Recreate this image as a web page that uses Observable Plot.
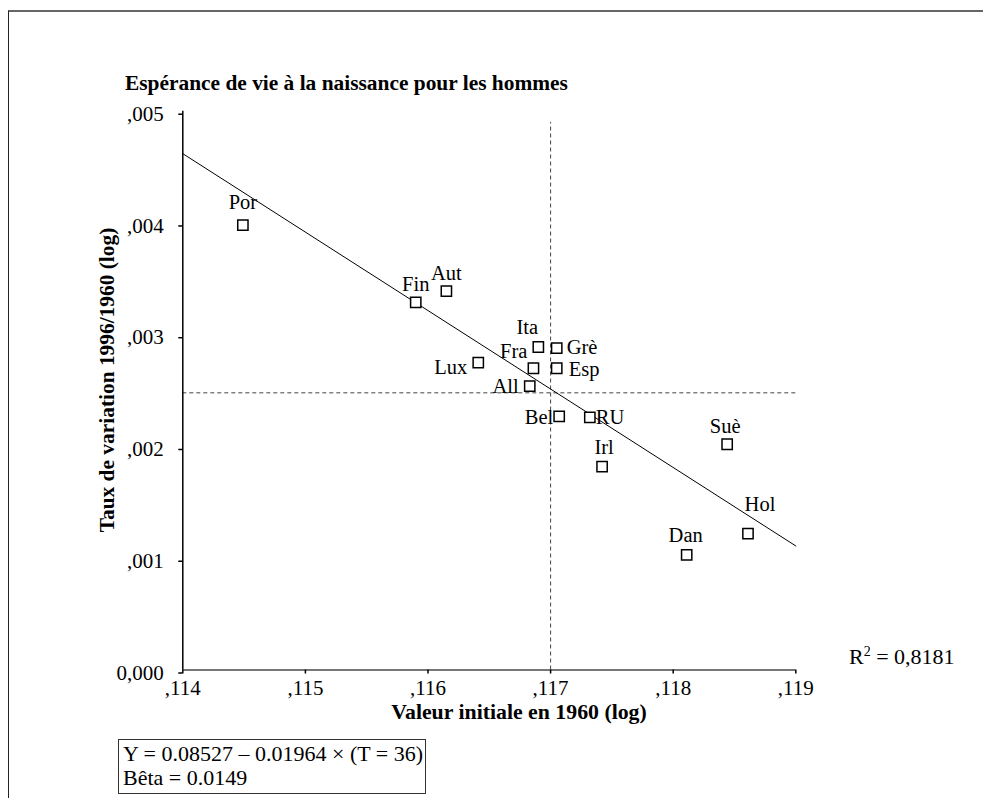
<!DOCTYPE html>
<html>
<head>
<meta charset="utf-8">
<script src="https://cdn.jsdelivr.net/npm/d3@7"></script>
<script src="https://cdn.jsdelivr.net/npm/@observablehq/plot@0.6"></script>
<style>
  html, body { margin: 0; padding: 0; background: #fff; }
  #wrap { position: relative; width: 983px; height: 798px; overflow: hidden; font-family: "Liberation Serif", "Times New Roman", serif; color: #000; }
  #wrap svg { position: absolute; left: 0; top: 0; }
  .frame { position: absolute; left: 8px; top: 10px; width: 1100px; height: 1000px; border-top: 2px solid #666; border-left: 1.5px solid #222; }
  .t { position: absolute; font-size: 21px; line-height: 21px; white-space: nowrap; }
  .b { font-weight: bold; }
  .eq { position: absolute; left: 118px; top: 739px; width: 302px; height: 51px; border: 1.5px solid #333; font-size: 22px; line-height: 24px; padding: 2px 0 0 4px; box-sizing: content-box; white-space: nowrap; }
</style>
</head>
<body>
<div id="wrap">
  <div class="frame"></div>
</div>
<script>
// ---- data ----
const countries = ["Por","Fin","Aut","Ita","Grè","Fra","Esp","Lux","All","Bel","RU","Irl","Suè","Hol","Dan"];
const initial1960 = [0.11449,0.11590,0.11615,0.11690,0.11705,0.11686,0.11705,0.11641,0.11683,0.11707,0.11732,0.11742,0.11844,0.11861,0.11811];
const growthRate = [0.00398,0.00329,0.00339,0.00289,0.00288,0.00270,0.00270,0.00275,0.00254,0.00227,0.00226,0.00182,0.00202,0.00122,0.00103];
const xTicks = [0.114,0.115,0.116,0.117,0.118,0.119];
const yTicks = [0,0.001,0.002,0.003,0.004,0.005];
const fitX = [0.114, 0.119];
const fitY = [0.00462, 0.00111];
const meanX = 0.117;
const meanY = 0.00248;
const meanXTop = 0.0049;

// label placement (style): anchor, dx, dy
const placement = {
  "Por":["middle",0,-23], "Fin":["middle",0,-18], "Aut":["middle",0,-18],
  "Ita":["middle",-11,-20], "Grè":["start",10,-1], "Fra":["end",-6,-17],
  "Esp":["start",12,1], "Lux":["end",-11,5], "All":["end",-11,0],
  "Bel":["end",-6,1], "RU":["start",6,0], "Irl":["middle",2,-19],
  "Suè":["middle",-2,-18], "Hol":["middle",12,-29], "Dan":["middle",-1,-19]
};

const points = countries.map((c, i) => ({country: c, x: initial1960[i], y: growthRate[i]}));
const fit = fitX.map((x, i) => ({x, y: fitY[i]}));

const fmtX = d => "," + d.toFixed(3).slice(2);
const fmtY = d => d === 0 ? "0,000" : "," + d.toFixed(3).slice(2);

const labelMarks = points.map(p => {
  const [anchor, dx, dy] = placement[p.country];
  return Plot.text([p], {x: "x", y: "y", text: "country", textAnchor: anchor, dx, dy, fill: "#000", fontSize: 20.5});
});

const chart = Plot.plot({
  width: 983,
  height: 798,
  marginLeft: 182.3,
  marginRight: 187.7,
  marginTop: 110.7,
  marginBottom: 128.5,
  style: {font: "21px 'Liberation Serif'", background: "transparent", overflow: "visible"},
  x: {domain: [xTicks[0], xTicks[xTicks.length - 1]]},
  y: {domain: [yTicks[0], yTicks[yTicks.length - 1]]},
  marks: [
    Plot.ruleY([meanY], {x1: xTicks[0], x2: xTicks[xTicks.length - 1], stroke: "#444", strokeWidth: 1, strokeDasharray: "4,3"}),
    Plot.ruleX([meanX], {y1: yTicks[0], y2: meanXTop, stroke: "#444", strokeWidth: 1, strokeDasharray: "4,3"}),
    Plot.line(fit, {x: "x", y: "y", stroke: "#000", strokeWidth: 1}),
    Plot.ruleY([yTicks[0]], {x1: xTicks[0], x2: xTicks[xTicks.length - 1], stroke: "#777", strokeWidth: 2}),
    Plot.ruleX([xTicks[0]], {y1: yTicks[0], y2: yTicks[yTicks.length - 1], stroke: "#000", strokeWidth: 1.5}),
    Plot.axisX({ticks: xTicks, tickFormat: fmtX, tickSize: 4, tickPadding: 6, label: null, stroke: "#000", strokeWidth: 1.5}),
    Plot.axisY({ticks: yTicks, tickFormat: fmtY, tickSize: 4, tickPadding: 15, label: null, dy: 3, stroke: "#000", strokeWidth: 1.5}),
    Plot.dot(points, {x: "x", y: "y", symbol: "square", r: 5.8, stroke: "#000", strokeWidth: 1.5, fill: "#fff"}),
    ...labelMarks
  ]
});

const wrap = document.getElementById("wrap");
wrap.appendChild(chart);

function addText(html, cls, css) {
  const d = document.createElement("div");
  d.className = "t " + cls;
  d.innerHTML = html;
  Object.assign(d.style, css);
  wrap.appendChild(d);
  return d;
}
// baseline ≈ top + 17.6px for 21px Liberation Serif with 21px line height
addText("Espérance de vie à la naissance pour les hommes", "b", {left: "125px", top: (90.5 - 17.6) + "px", fontSize: "21.4px"});
addText("Valeur initiale en 1960 (log)", "b", {left: "519px", top: (720 - 17.6) + "px", transform: "translateX(-50%)", fontSize: "21.8px"});
addText("Taux de variation 1996/1960 (log)", "b", {left: "107px", top: "380px", transform: "translate(-50%,-50%) rotate(-90deg)", fontSize: "21.4px"});
addText("R<sup style='font-size:14px;line-height:0;vertical-align:8px'>2</sup> = 0,8181", "", {left: "849px", top: (664 - 17.6) + "px", fontSize: "22px"});

const eq = document.createElement("div");
eq.className = "eq";
eq.innerHTML = "Y = 0.08527 – 0.01964 × (T = 36)<br>Bêta = 0.0149";
wrap.appendChild(eq);
</script>
</body>
</html>
